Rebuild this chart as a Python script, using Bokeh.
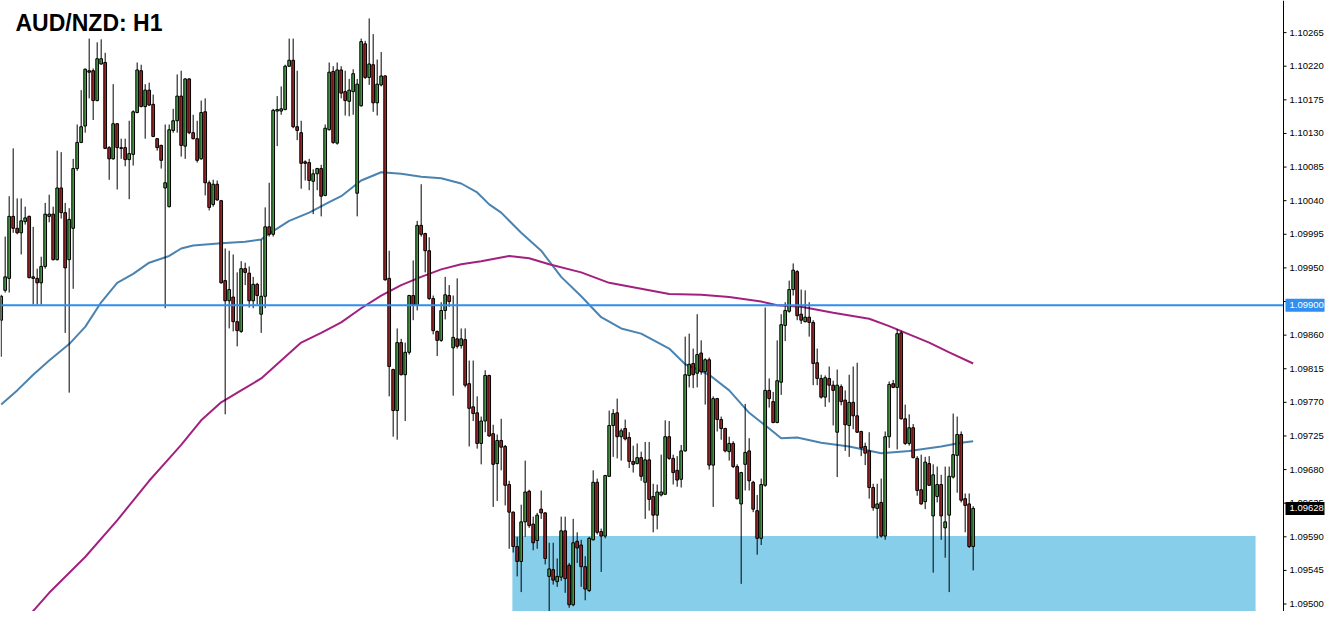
from bokeh.plotting import figure
from bokeh.models import Span, Label, Range1d, ColumnDataSource
from bokeh.core.properties import value
from bokeh.embed import file_html
from bokeh.resources import INLINE

# ---------------- data (AUD/NZD, H1) ----------------
open_ = [
1.09880, 1.09920, 1.09936, 1.10019, 1.10003, 1.09997, 1.10012, 1.10019, 1.09938, 1.09936,
1.09930, 1.09952, 1.10019, 1.10022, 1.09961, 1.10057, 1.10024, 1.09961, 1.10003, 1.10083,
1.10118, 1.10140, 1.10214, 1.10214, 1.10174, 1.10223, 1.10225, 1.10111, 1.10096, 1.10143,
1.10111, 1.10111, 1.10095, 1.10102, 1.10158, 1.10214, 1.10166, 1.10188, 1.10169, 1.10123,
1.10114, 1.10057, 1.10032, 1.10134, 1.10147, 1.10180, 1.10113, 1.10203, 1.10131, 1.10123,
1.10096, 1.10159, 1.10064, 1.10035, 1.10062, 1.10040, 1.09933, 1.09906, 1.09911, 1.09878,
1.09865, 1.09949, 1.09943, 1.09906, 1.09928, 1.09888, 1.09912, 1.10005, 1.09995, 1.10160,
1.10160, 1.10162, 1.10220, 1.10228, 1.10139, 1.10131, 1.10092, 1.10091, 1.10066, 1.10076,
1.10083, 1.10047, 1.10135, 1.10213, 1.10117, 1.10215, 1.10186, 1.10173, 1.10186, 1.10050,
1.10167, 1.10250, 1.10205, 1.10222, 1.10171, 1.10195, 1.10207, 1.09936, 1.09814, 1.09759,
1.09850, 1.09807, 1.09837, 1.09913, 1.09900, 1.10007, 1.09996, 1.09973, 1.09909, 1.09865,
1.09853, 1.09893, 1.09913, 1.09843, 1.09855, 1.09846, 1.09854, 1.09795, 1.09764, 1.09756,
1.09715, 1.09745, 1.09806, 1.09728, 1.09688, 1.09719, 1.09711, 1.09660, 1.09623, 1.09577,
1.09557, 1.09610, 1.09651, 1.09607, 1.09585, 1.09627, 1.09622, 1.09537, 1.09546, 1.09530,
1.09536, 1.09598, 1.09552, 1.09499, 1.09584, 1.09579, 1.09550, 1.09518, 1.09586, 1.09663,
1.09597, 1.09591, 1.09671, 1.09739, 1.09756, 1.09724, 1.09735, 1.09723, 1.09691, 1.09688,
1.09696, 1.09663, 1.09693, 1.09644, 1.09619, 1.09646, 1.09647, 1.09724, 1.09695, 1.09679,
1.09667, 1.09705, 1.09806, 1.09822, 1.09809, 1.09836, 1.09811, 1.09827, 1.09686, 1.09775,
1.09747, 1.09735, 1.09704, 1.09715, 1.09684, 1.09634, 1.09687, 1.09705, 1.09663, 1.09625,
1.09588, 1.09659, 1.09786, 1.09771, 1.09743, 1.09797, 1.09873, 1.09892, 1.09921, 1.09945,
1.09888, 1.09878, 1.09884, 1.09877, 1.09823, 1.09802, 1.09777, 1.09802, 1.09793, 1.09730,
1.09791, 1.09773, 1.09739, 1.09770, 1.09752, 1.09731, 1.09711, 1.09705, 1.09656, 1.09628,
1.09636, 1.09591, 1.09724, 1.09795, 1.09790, 1.09863, 1.09748, 1.09715, 1.09736, 1.09695,
1.09653, 1.09637, 1.09688, 1.09618, 1.09644, 1.09660, 1.09602, 1.09619, 1.09670, 1.09699,
1.09727, 1.09641, 1.09634, 1.09577]

high = [
1.09914, 1.09992, 1.10046, 1.10110, 1.10043, 1.10043, 1.10032, 1.10020, 1.10005, 1.09949,
1.09965, 1.10037, 1.10048, 1.10032, 1.10107, 1.10105, 1.10037, 1.10030, 1.10096, 1.10142,
1.10188, 1.10217, 1.10257, 1.10217, 1.10252, 1.10256, 1.10238, 1.10113, 1.10196, 1.10144,
1.10123, 1.10123, 1.10147, 1.10161, 1.10225, 1.10222, 1.10196, 1.10198, 1.10182, 1.10124,
1.10115, 1.10142, 1.10142, 1.10163, 1.10209, 1.10214, 1.10204, 1.10204, 1.10155, 1.10147,
1.10174, 1.10177, 1.10067, 1.10068, 1.10067, 1.10041, 1.09976, 1.09973, 1.09968, 1.09944,
1.09959, 1.09957, 1.09952, 1.09938, 1.09930, 1.09988, 1.10031, 1.10064, 1.10163, 1.10180,
1.10193, 1.10222, 1.10257, 1.10257, 1.10214, 1.10147, 1.10094, 1.10096, 1.10082, 1.10084,
1.10088, 1.10142, 1.10225, 1.10220, 1.10225, 1.10220, 1.10214, 1.10203, 1.10216, 1.10203,
1.10257, 1.10254, 1.10284, 1.10263, 1.10229, 1.10239, 1.10208, 1.09973, 1.09815, 1.09869,
1.09855, 1.09850, 1.09914, 1.09960, 1.10013, 1.10062, 1.09997, 1.09991, 1.09913, 1.09866,
1.09904, 1.09938, 1.09927, 1.09913, 1.09936, 1.09869, 1.09869, 1.09826, 1.09826, 1.09778,
1.09751, 1.09813, 1.09807, 1.09740, 1.09727, 1.09748, 1.09713, 1.09665, 1.09624, 1.09590,
1.09633, 1.09692, 1.09653, 1.09617, 1.09622, 1.09652, 1.09623, 1.09582, 1.09582, 1.09561,
1.09617, 1.09617, 1.09555, 1.09614, 1.09596, 1.09586, 1.09564, 1.09590, 1.09679, 1.09668,
1.09601, 1.09673, 1.09759, 1.09761, 1.09775, 1.09735, 1.09747, 1.09730, 1.09712, 1.09715,
1.09704, 1.09717, 1.09717, 1.09661, 1.09660, 1.09700, 1.09746, 1.09745, 1.09700, 1.09698,
1.09713, 1.09858, 1.09862, 1.09842, 1.09888, 1.09853, 1.09829, 1.09830, 1.09778, 1.09776,
1.09751, 1.09736, 1.09724, 1.09718, 1.09687, 1.09677, 1.09768, 1.09722, 1.09665, 1.09646,
1.09668, 1.09897, 1.09802, 1.09784, 1.09853, 1.09888, 1.09904, 1.09933, 1.09956, 1.09947,
1.09921, 1.09920, 1.09904, 1.09880, 1.09842, 1.09807, 1.09806, 1.09818, 1.09799, 1.09814,
1.09794, 1.09786, 1.09807, 1.09818, 1.09823, 1.09732, 1.09716, 1.09730, 1.09661, 1.09661,
1.09668, 1.09731, 1.09798, 1.09800, 1.09868, 1.09866, 1.09767, 1.09754, 1.09741, 1.09698,
1.09700, 1.09697, 1.09698, 1.09687, 1.09684, 1.09673, 1.09684, 1.09684, 1.09755, 1.09751,
1.09731, 1.09648, 1.09648, 1.09631]

low = [
1.09831, 1.09917, 1.09917, 1.09997, 1.09995, 1.09968, 1.10008, 1.09936, 1.09901, 1.09901,
1.09901, 1.09949, 1.10011, 1.09960, 1.09960, 1.10016, 1.09863, 1.09783, 1.09922, 1.10080,
1.10117, 1.10131, 1.10177, 1.10148, 1.10173, 1.10222, 1.10109, 1.10068, 1.10095, 1.10055,
1.10096, 1.10086, 1.10042, 1.10087, 1.10157, 1.10165, 1.10123, 1.10167, 1.10125, 1.10107,
1.10083, 1.09896, 1.10031, 1.10131, 1.10131, 1.10099, 1.10096, 1.10129, 1.10122, 1.10091,
1.10095, 1.10047, 1.10027, 1.10032, 1.10040, 1.09929, 1.09754, 1.09869, 1.09865, 1.09845,
1.09863, 1.09927, 1.09897, 1.09896, 1.09901, 1.09863, 1.09896, 1.09992, 1.09992, 1.10113,
1.10155, 1.10161, 1.10219, 1.10137, 1.10121, 1.10056, 1.10067, 1.10054, 1.10022, 1.10054,
1.10019, 1.10046, 1.10134, 1.10116, 1.10115, 1.10177, 1.10154, 1.10153, 1.10155, 1.10019,
1.10166, 1.10203, 1.10195, 1.10159, 1.10154, 1.10193, 1.09933, 1.09778, 1.09724, 1.09720,
1.09806, 1.09745, 1.09834, 1.09880, 1.09893, 1.09992, 1.09944, 1.09907, 1.09861, 1.09832,
1.09851, 1.09881, 1.09898, 1.09779, 1.09842, 1.09842, 1.09790, 1.09711, 1.09745, 1.09708,
1.09687, 1.09730, 1.09724, 1.09630, 1.09638, 1.09679, 1.09632, 1.09574, 1.09569, 1.09537,
1.09516, 1.09590, 1.09602, 1.09572, 1.09574, 1.09614, 1.09553, 1.09472, 1.09526, 1.09523,
1.09531, 1.09515, 1.09495, 1.09497, 1.09555, 1.09523, 1.09505, 1.09516, 1.09585, 1.09593,
1.09543, 1.09588, 1.09670, 1.09697, 1.09695, 1.09692, 1.09719, 1.09682, 1.09676, 1.09687,
1.09665, 1.09614, 1.09625, 1.09596, 1.09600, 1.09644, 1.09646, 1.09693, 1.09660, 1.09657,
1.09656, 1.09704, 1.09790, 1.09789, 1.09790, 1.09807, 1.09767, 1.09680, 1.09630, 1.09731,
1.09720, 1.09703, 1.09692, 1.09682, 1.09640, 1.09527, 1.09652, 1.09652, 1.09623, 1.09566,
1.09579, 1.09657, 1.09763, 1.09742, 1.09742, 1.09780, 1.09852, 1.09890, 1.09913, 1.09880,
1.09875, 1.09877, 1.09858, 1.09793, 1.09793, 1.09775, 1.09764, 1.09770, 1.09739, 1.09670,
1.09766, 1.09705, 1.09697, 1.09734, 1.09729, 1.09698, 1.09686, 1.09641, 1.09625, 1.09588,
1.09589, 1.09586, 1.09709, 1.09789, 1.09707, 1.09747, 1.09713, 1.09712, 1.09695, 1.09645,
1.09633, 1.09627, 1.09658, 1.09542, 1.09636, 1.09586, 1.09562, 1.09516, 1.09668, 1.09649,
1.09636, 1.09596, 1.09575, 1.09545]

close = [
1.09912, 1.09938, 1.10019, 1.10003, 1.09997, 1.10013, 1.10017, 1.09937, 1.09936, 1.09930,
1.09952, 1.10022, 1.10022, 1.09961, 1.10057, 1.10024, 1.09950, 1.10015, 1.10083, 1.10118,
1.10139, 1.10216, 1.10212, 1.10174, 1.10230, 1.10230, 1.10110, 1.10096, 1.10143, 1.10111,
1.10110, 1.10095, 1.10103, 1.10159, 1.10215, 1.10166, 1.10188, 1.10168, 1.10126, 1.10111,
1.10094, 1.10064, 1.10135, 1.10147, 1.10180, 1.10114, 1.10203, 1.10131, 1.10123, 1.10094,
1.10158, 1.10064, 1.10031, 1.10062, 1.10041, 1.09930, 1.09906, 1.09921, 1.09878, 1.09866,
1.09949, 1.09944, 1.09906, 1.09928, 1.09913, 1.09912, 1.10005, 1.09995, 1.10161, 1.10162,
1.10163, 1.10220, 1.10228, 1.10139, 1.10134, 1.10090, 1.10090, 1.10067, 1.10076, 1.10083,
1.10046, 1.10137, 1.10212, 1.10118, 1.10215, 1.10184, 1.10174, 1.10188, 1.10210, 1.10196,
1.10253, 1.10205, 1.10223, 1.10171, 1.10196, 1.10207, 1.09934, 1.09818, 1.09759, 1.09850,
1.09807, 1.09837, 1.09913, 1.09901, 1.10007, 1.09995, 1.09973, 1.09909, 1.09866, 1.09853,
1.09893, 1.09914, 1.09905, 1.09857, 1.09845, 1.09855, 1.09793, 1.09762, 1.09755, 1.09715,
1.09745, 1.09806, 1.09725, 1.09687, 1.09719, 1.09710, 1.09659, 1.09623, 1.09577, 1.09557,
1.09610, 1.09650, 1.09605, 1.09582, 1.09619, 1.09622, 1.09561, 1.09547, 1.09532, 1.09537,
1.09598, 1.09534, 1.09499, 1.09582, 1.09575, 1.09550, 1.09520, 1.09588, 1.09663, 1.09596,
1.09591, 1.09672, 1.09739, 1.09755, 1.09724, 1.09732, 1.09721, 1.09691, 1.09687, 1.09696,
1.09671, 1.09693, 1.09640, 1.09619, 1.09650, 1.09650, 1.09724, 1.09695, 1.09676, 1.09666,
1.09705, 1.09807, 1.09821, 1.09807, 1.09834, 1.09811, 1.09827, 1.09686, 1.09775, 1.09747,
1.09735, 1.09705, 1.09715, 1.09684, 1.09641, 1.09676, 1.09703, 1.09665, 1.09627, 1.09588,
1.09660, 1.09786, 1.09775, 1.09743, 1.09799, 1.09874, 1.09893, 1.09921, 1.09947, 1.09886,
1.09880, 1.09884, 1.09877, 1.09822, 1.09802, 1.09777, 1.09803, 1.09793, 1.09786, 1.09793,
1.09771, 1.09740, 1.09770, 1.09752, 1.09730, 1.09709, 1.09702, 1.09656, 1.09629, 1.09634,
1.09591, 1.09724, 1.09794, 1.09790, 1.09862, 1.09748, 1.09715, 1.09736, 1.09696, 1.09652,
1.09634, 1.09690, 1.09659, 1.09673, 1.09660, 1.09618, 1.09610, 1.09671, 1.09700, 1.09727,
1.09639, 1.09632, 1.09577, 1.09628]

# moving averages (bar index, value)
ma_blue_idx = [0, 4, 8, 12, 17, 21, 25, 29, 33, 37, 42, 45, 48, 55, 61, 65, 67, 72, 77, 82,
               85, 90, 95, 100, 105, 110, 115, 119, 122, 125, 130, 135, 140, 145, 150, 155,
               160, 167, 171, 177, 182, 187, 192, 195, 199, 205, 212, 220, 227, 235, 240, 243]
ma_blue_val = [1.09767, 1.09786, 1.09807, 1.09826, 1.09848, 1.09871, 1.09904, 1.09930, 1.09942,
               1.09957, 1.09966, 1.09976, 1.09980, 1.09983, 1.09985, 1.09988, 1.09996, 1.10013,
               1.10024, 1.10038, 1.10046, 1.10067, 1.10078, 1.10076, 1.10072, 1.10070, 1.10063,
               1.10051, 1.10035, 1.10024, 1.09997, 1.09973, 1.09938, 1.09912, 1.09884, 1.09869,
               1.09862, 1.09842, 1.09821, 1.09807, 1.09786, 1.09756, 1.09735, 1.09722, 1.09723,
               1.09716, 1.09711, 1.09702, 1.09705, 1.09711, 1.09716, 1.09718]

ma_red_idx = [0, 12, 21, 29, 37, 42, 45, 50, 55, 60, 65, 70, 75, 80, 85, 90, 95, 100, 105,
              110, 115, 120, 127, 132, 137, 145, 152, 157, 162, 167, 175, 182, 190, 194,
              200, 208, 217, 222, 227, 232, 237, 243]
ma_red_val = [1.09442, 1.09515, 1.09563, 1.09612, 1.09665, 1.09695, 1.09713, 1.09746, 1.09770,
              1.09786, 1.09802, 1.09826, 1.09850, 1.09863, 1.09877, 1.09896, 1.09913, 1.09927,
              1.09938, 1.09948, 1.09955, 1.09959, 1.09966, 1.09963, 1.09955, 1.09944, 1.09930,
              1.09925, 1.09920, 1.09915, 1.09914, 1.09911, 1.09905, 1.09900, 1.09898, 1.09890,
              1.09882, 1.09872, 1.09861, 1.09850, 1.09837, 1.09822]

level_line = 1.09900
last_price = 1.09628
zone_top, zone_bottom = 1.09591, 1.09473
zone_start, zone_end = 127.8, 313.6

tick_values = [1.10265, 1.10220, 1.10175, 1.10130, 1.10085, 1.10040, 1.09995, 1.09950,
               1.09905, 1.09860, 1.09815, 1.09770, 1.09725, 1.09680, 1.09635, 1.09590,
               1.09545, 1.09500]
tick_labels = ["1.10265", "1.10220", "1.10175", "1.10130", "1.10085", "1.10040", "1.09995",
               "1.09950", "1.09905", "1.09860", "1.09815", "1.09770", "1.09725", "1.09680",
               "1.09635", "1.09590", "1.09545", "1.09500"]

title_text = "AUD/NZD: H1"

# ---------------- layout ----------------
W, H = 1325, 611
PX_PER_BAR = 4.0
X_START = -0.17
X_END = X_START + W / PX_PER_BAR
Y_BOTTOM, Y_TOP = 1.09490, 1.10308


def px(pixels):
    """horizontal screen position (from the left edge) -> bar-index coordinate"""
    return X_START + pixels / PX_PER_BAR


AXIS_X = px(1283)
TICK_END = px(1286)
LABEL_X = px(1289)
BOX_CX = px(1304.5)
FONT = value("Liberation Sans")
FONT_SIZE = value("9.5px")

p = figure(width=W, height=H,
           x_range=Range1d(X_START, X_END), y_range=Range1d(Y_BOTTOM, Y_TOP),
           x_axis_type=None, y_axis_type=None,
           output_backend="svg", toolbar_location=None,
           min_border_left=0, min_border_right=0, min_border_top=0, min_border_bottom=0)
p.outline_line_color = None
p.background_fill_color = "white"
p.border_fill_color = "white"

# support zone
p.quad(left=[zone_start], right=[zone_end], top=[zone_top], bottom=[zone_bottom],
       fill_color="#87CEEB", line_color=None)

# moving averages
p.line(ma_blue_idx, ma_blue_val, line_color="#4A83B0", line_width=2)
p.line(ma_red_idx, ma_red_val, line_color="#A3217E", line_width=2)

# candles
idx = list(range(len(close)))
src = ColumnDataSource(dict(
    x=idx, high=high, low=low,
    top=[max(o, c) for o, c in zip(open_, close)],
    bottom=[min(o, c) for o, c in zip(open_, close)],
    color=["#3E9A3E" if c >= o else "#A52222" for o, c in zip(open_, close)],
))
p.segment(x0="x", y0="high", x1="x", y1="low", source=src, line_color="black", line_width=1)
p.vbar(x="x", width=0.68, top="top", bottom="bottom", source=src,
       fill_color="color", line_color="black", line_width=1)

# horizontal level line (stops at the price scale)
p.segment(x0=[X_START], y0=[level_line], x1=[AXIS_X], y1=[level_line],
          line_color="#2E8FF0", line_width=2)

# price scale on the right (MT4 style)
p.add_layout(Span(location=AXIS_X, dimension="height", line_color="black", line_width=1))
p.segment(x0=[AXIS_X] * len(tick_values), y0=tick_values,
          x1=[TICK_END] * len(tick_values), y1=tick_values,
          line_color="black", line_width=1)
p.text(x=[LABEL_X] * len(tick_values), y=tick_values, text=tick_labels,
       text_font=FONT, text_font_size=FONT_SIZE, text_color="black",
       text_baseline="middle", text_align="left")

# price boxes
box_prices = [level_line, last_price]
box_colors = ["#2E8FF0", "black"]
p.rect(x=[BOX_CX] * 2, y=box_prices, width=39, height=13,
       width_units="screen", height_units="screen",
       fill_color=box_colors, line_color=None)
p.text(x=[LABEL_X] * 2, y=box_prices, text=[f"{v:.5f}" for v in box_prices],
       text_font=FONT, text_font_size=FONT_SIZE, text_color="white",
       text_baseline="middle", text_align="left")

# title
p.add_layout(Label(x=15, y=H - 22, x_units="screen", y_units="screen", text=title_text,
                   text_font="Liberation Sans", text_font_style="bold",
                   text_font_size="23px", text_color="black", text_baseline="alphabetic"))

open("out.html", "w").write(file_html(p, INLINE))
